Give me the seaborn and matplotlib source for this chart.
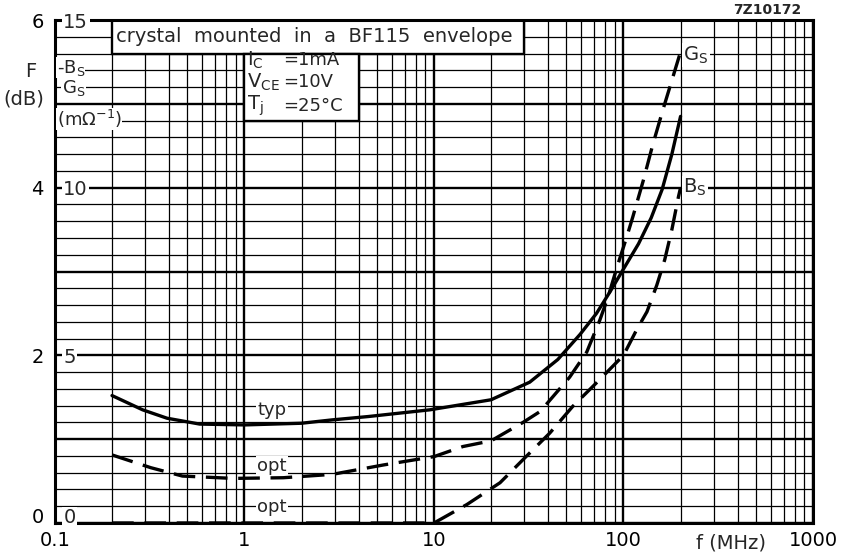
import numpy as np
import pandas as pd
import matplotlib
matplotlib.use("Agg")
import matplotlib.pyplot as plt
import matplotlib.ticker as mticker
import matplotlib.transforms as mtrans
from matplotlib.patches import Rectangle
import seaborn as sns

# F typ (dB)
f_typ = [0.2, 0.29, 0.39, 0.58, 1, 2, 2.9, 4.5, 9.5, 20, 32, 45, 59, 72, 85, 100, 120, 140, 160, 180, 200]
F_typ = [1.52, 1.35, 1.25, 1.18, 1.17, 1.19, 1.23, 1.27, 1.35, 1.47, 1.68, 1.95, 2.25, 2.50, 2.76, 3.03, 3.33, 3.64, 3.98, 4.40, 4.85]

# G_S opt (mOhm^-1)
f_gs = [0.2, 0.32, 0.47, 0.87, 1.6, 2.9, 5.4, 10, 14.2, 20, 29.5, 36.4, 52, 64, 75, 83, 92.4, 104, 112, 127, 143, 161, 180, 200]
G_S = [2.03, 1.65, 1.40, 1.33, 1.35, 1.45, 1.73, 1.98, 2.28, 2.45, 3.0, 3.33, 4.35, 5.1, 6.05, 6.75, 7.63, 8.53, 9.13, 10.2, 11.3, 12.3, 13.2, 14.05]

# -B_S opt (mOhm^-1)
f_bs = [0.2, 1, 5, 10, 14.9, 22.3, 30.6, 40.8, 54, 72, 100, 117, 133, 150, 165, 180, 195, 200]
B_S = [0, 0, 0, 0, 0.55, 1.2, 1.98, 2.68, 3.48, 4.18, 5.0, 5.75, 6.3, 7.1, 7.85, 8.75, 9.73, 10.0]

x_ticks = [0.1, 1, 10, 100, 1000]
x_labels = ["0.1", "1", "10", "100", "1000"]
f_ticks = [0, 2, 4, 6]
g_ticks = [0, 5, 10, 15]

sns.set_style("white")
plt.rcParams["font.family"] = ["DejaVu Sans"]

fig = plt.figure(figsize=(8.54, 5.53), dpi=100)
ax = fig.add_axes([55 / 854, 1 - 523 / 553, (813 - 55) / 854, (523 - 20) / 553])

ax.set_xscale("log")
ax.set_xlim(0.1, 1000)
ax.set_ylim(0, 6)
ax.xaxis.set_major_locator(mticker.FixedLocator(x_ticks))
ax.xaxis.set_major_formatter(mticker.FixedFormatter(x_labels))
ax.xaxis.set_minor_locator(mticker.LogLocator(base=10, subs=np.arange(2, 10)))
ax.xaxis.set_minor_formatter(mticker.NullFormatter())
ax.yaxis.set_major_locator(mticker.MultipleLocator(1))
ax.yaxis.set_minor_locator(mticker.MultipleLocator(0.2))
ax.yaxis.set_major_formatter(mticker.FuncFormatter(lambda v, p: f"{v:g}" if round(v) in f_ticks else ""))
ax.grid(which="major", color="black", lw=1.7)
ax.grid(which="minor", color="black", lw=0.9)
ax.set_axisbelow(True)
ax.tick_params(axis="both", which="both", length=0, labelsize=14, colors="black")
ax.tick_params(axis="y", pad=8)
ax.tick_params(axis="x", pad=6)
for s in ax.spines.values():
    s.set_linewidth(2.2)
    s.set_color("black")

# F typ curve
df_typ = pd.DataFrame({"f": f_typ, "F": F_typ})
sns.lineplot(data=df_typ, x="f", y="F", ax=ax, color="black", lw=2.4, zorder=4)
ax.set_xlabel("")
ax.set_ylabel("")

# G_S and B_S on second scale
ax2 = ax.twinx()
ax2.set_ylim(0, 15)
df_gs = pd.DataFrame({"f": f_gs, "G": G_S})
df_bs = pd.DataFrame({"f": f_bs, "B": B_S})
sns.lineplot(data=df_gs, x="f", y="G", ax=ax2, color="black", lw=2.4, linestyle=(0, (6.5, 3.2)))
sns.lineplot(data=df_bs, x="f", y="B", ax=ax2, color="black", lw=2.4, linestyle=(0, (6.5, 3.2)))
ax2.set_xlabel("")
ax2.set_ylabel("")
ax2.set_yticks(g_ticks)
ax2.yaxis.tick_left()
ax2.tick_params(axis="y", length=0, pad=-6, labelsize=14)
for lab in ax2.get_yticklabels():
    lab.set_horizontalalignment("left")
    lab.set_bbox(dict(facecolor="white", edgecolor="none", pad=1))
for s in ax2.spines.values():
    s.set_visible(False)

# lift the two zero labels so they sit on the axis line
fig.canvas.draw()
for axis_obj in (ax.yaxis, ax2.yaxis):
    for t in axis_obj.get_major_ticks():
        if abs(t.get_loc()) < 1e-9:
            t.label1.set_verticalalignment("baseline")

# boxes at top
ax.add_patch(Rectangle((0.2, 5.6), 30 - 0.2, 0.4, facecolor="white", edgecolor="black", lw=1.7, zorder=2))
ax.add_patch(Rectangle((1, 4.8), 3, 0.8, facecolor="white", edgecolor="black", lw=1.7, zorder=2))
ax.text(0.21, 5.8, "crystal  mounted  in  a  BF115  envelope", fontsize=14, va="center", ha="left", zorder=5)
cond_left = [r"I$_\mathregular{C}$", r"V$_\mathregular{CE}$", r"T$_\mathregular{j}$"]
cond_right = ["=1mA", "=10V", "=25\u00b0C"]
cond_y = [5.52, 5.26, 4.98]
for a, b, yy in zip(cond_left, cond_right, cond_y):
    ax.text(1.03, yy, a, fontsize=14, va="center", ha="left", zorder=5)
    ax.text(1.6, yy, b, fontsize=13, va="center", ha="left", zorder=5)

# curve labels
wb = dict(facecolor="white", edgecolor="none", pad=1)
ax.text(1.4, 1.35, "typ", fontsize=13, ha="center", va="center", bbox=wb, zorder=5)
ax.text(1.4, 0.68, "opt", fontsize=13, ha="center", va="center", bbox=wb, zorder=5)
ax.text(1.4, 0.19, "opt", fontsize=13, ha="center", va="center", bbox=wb, zorder=5)
ax.text(207, 5.58, r"G$_\mathregular{S}$", fontsize=14, ha="left", va="center", bbox=wb, zorder=5)
ax.text(207, 4.0, r"B$_\mathregular{S}$", fontsize=14, ha="left", va="center", bbox=wb, zorder=5)

# left scale labels
wb0 = dict(facecolor="white", edgecolor="none", pad=0.3)
tr = mtrans.blended_transform_factory(ax.transAxes, ax.transData)
ax.text(0.002, 5.43, r"-B$_\mathregular{S}$", fontsize=13, ha="left", va="center", bbox=wb0, transform=tr, zorder=5)
ax.text(0.009, 5.19, r"G$_\mathregular{S}$", fontsize=13, ha="left", va="center", bbox=wb0, transform=tr, zorder=5)
ax.text(0.002, 4.82, r"(m$\Omega^{\mathregular{-1}}$)", fontsize=13, ha="left", va="center", bbox=wb0, transform=tr, zorder=5)
ax.text(-0.032, 5.38, "F", fontsize=14, ha="center", va="center", transform=tr, clip_on=False)
ax.text(-0.041, 5.06, "(dB)", fontsize=14, ha="center", va="center", transform=tr, clip_on=False)

# x-axis label and drawing number
trx = mtrans.blended_transform_factory(ax.transData, ax.transAxes)
ax.text(370, -0.04, "f (MHz)", fontsize=14, ha="center", va="center", transform=trx, clip_on=False)
ax.text(1.0 - 0.015, 1.019, "7Z10172", fontsize=10, fontweight="bold", ha="right", va="center", transform=ax.transAxes)

fig.savefig("out.png", dpi=100)
